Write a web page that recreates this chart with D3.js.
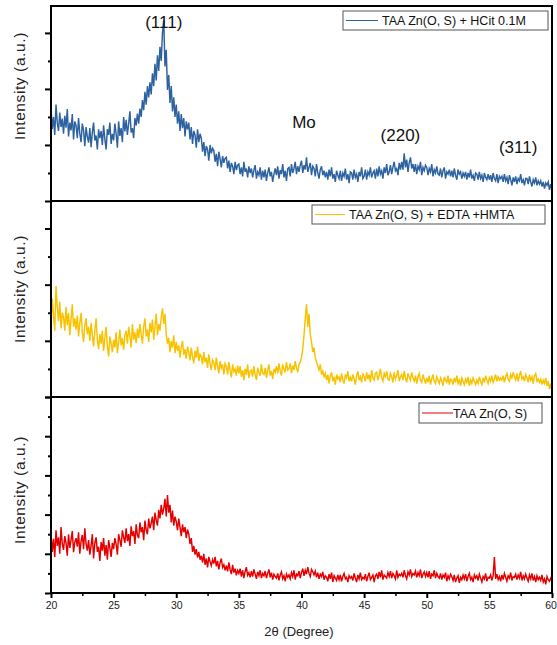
<!DOCTYPE html>
<html>
<head>
<meta charset="utf-8">
<script src="https://cdn.jsdelivr.net/npm/d3@7"></script>
<style>
  html, body { margin: 0; padding: 0; background: #fff; }
  svg { display: block; }
  text { font-family: "Liberation Sans", Arial, sans-serif; }
</style>
</head>
<body>
<svg id="chart" width="557" height="645"></svg>
<script>
// XRD scans, 2θ from 20° to 60° in 0.1° steps (401 points per scan)
const angleStart = 20;
const angleStep = 0.1;

// TAA Zn(O, S) + HCit 0.1M
const hcitCounts = [
  165,128,150,118,172,140,125,158,132,147,
  120,152,131,164,115,140,126,155,110,142,
  135,112,148,120,105,138,126,98,132,115,
  104,130,96,122,140,108,117,92,128,112,
  125,100,135,110,92,128,118,140,102,120,
  108,138,120,95,142,116,130,105,150,124,
  145,118,138,160,122,130,112,148,135,156,
  138,165,150,180,162,195,172,205,185,212,
  190,228,205,245,215,260,232,275,250,300,
  322,240,270,198,225,175,205,160,185,150,
  172,138,160,125,155,130,148,115,142,128,
  140,110,132,102,125,118,95,128,105,120,
  112,88,105,80,98,92,72,100,85,94,
  90,70,84,62,88,75,60,80,68,76,
  78,58,72,52,68,62,48,70,55,64,
  66,48,60,44,70,52,58,42,62,50,
  58,42,55,64,40,52,46,60,38,54,
  42,56,36,50,60,44,52,34,48,58,
  46,62,40,55,48,66,42,54,36,58,
  60,44,66,50,58,70,48,62,52,64,
  72,50,64,56,78,52,60,68,46,62,
  58,44,66,50,40,56,62,46,54,42,
  52,38,56,44,60,40,48,34,54,46,
  40,54,36,50,44,58,38,48,32,52,
  50,38,56,42,48,34,52,44,60,40,
  44,56,38,52,46,60,42,50,54,40,
  58,44,62,48,54,40,60,50,66,46,
  52,64,48,60,70,54,58,46,68,56,
  70,56,85,60,74,52,68,78,58,66,
  52,66,48,62,56,70,46,60,54,64,
  60,46,58,52,66,44,56,50,62,48,
  46,58,42,54,60,40,52,48,56,44,
  54,42,58,46,38,56,48,52,40,50,
  44,52,38,50,42,56,40,46,36,50,
  48,38,52,40,46,34,50,42,38,48,
  38,46,34,50,40,36,48,32,44,40,
  44,34,48,36,42,30,46,38,28,42,
  34,44,30,40,36,48,32,38,28,40,
  40,30,44,34,26,38,32,42,28,36,
  30,36,26,34,22,32,28,34,20,30,
  22
];

// TAA Zn(O, S) + EDTA + HMTA
const edtaCounts = [
  130,175,145,118,198,160,135,170,122,150,
  142,118,160,128,150,110,138,165,125,140,
  120,145,108,132,150,115,98,128,140,112,
  125,100,132,110,90,118,140,102,85,112,
  95,118,82,105,125,90,72,108,96,80,
  102,88,115,78,98,120,92,105,84,110,
  118,95,125,108,88,130,102,115,96,122,
  105,130,112,95,125,140,108,120,98,132,
  115,138,102,125,148,110,130,118,142,158,
  130,148,112,95,105,80,100,88,110,78,
  98,82,92,70,88,100,75,85,68,90,
  80,65,88,72,60,82,70,90,64,76,
  72,58,80,62,70,52,76,60,48,66,
  62,48,70,55,42,64,52,58,40,60,
  55,40,62,48,35,58,45,50,38,56,
  42,55,36,48,30,50,40,58,34,46,
  48,36,55,40,30,52,44,38,58,42,
  40,52,34,48,58,38,46,32,50,44,
  55,42,60,46,38,58,50,44,62,48,
  50,60,42,56,48,64,52,44,58,62,
  70,85,110,140,165,125,148,112,98,80,
  88,70,62,55,48,58,40,46,36,42,
  30,40,24,38,44,28,36,22,40,32,
  36,26,42,30,24,40,34,46,28,35,
  28,40,32,22,38,46,30,36,26,42,
  36,28,44,32,40,26,48,34,30,42,
  44,30,38,50,34,28,42,36,46,32,
  30,42,36,26,44,32,38,48,28,36,
  40,30,46,34,26,42,36,30,44,34,
  28,38,24,36,42,30,26,40,32,24,
  34,26,38,22,32,40,28,24,36,30,
  24,34,28,20,36,30,26,38,22,32,
  30,22,34,26,38,24,30,20,34,28,
  22,32,26,36,20,30,24,34,28,22,
  30,24,36,28,22,34,26,38,30,24,
  34,28,38,26,32,40,28,36,30,34,
  30,38,26,36,42,32,28,40,34,44,
  36,30,42,28,38,46,32,36,28,40,
  34,26,40,30,36,24,38,42,28,32,
  26,32,22,30,24,34,20,28,14,24,
  10
];

// TAA Zn(O, S)
const plainCounts = [
  150,105,138,92,160,120,142,100,168,125,
  110,145,128,95,150,115,135,158,104,130,
  140,118,155,100,132,148,112,165,125,108,
  135,98,120,150,88,128,142,105,118,82,
  130,108,140,95,122,85,135,115,92,128,
  112,140,125,98,150,135,118,160,142,128,
  165,132,150,120,170,145,158,125,175,148,
  140,180,155,168,135,185,160,150,190,165,
  178,195,160,205,185,172,212,190,225,200,
  215,240,195,250,205,225,180,210,172,195,
  182,160,190,168,145,175,155,168,140,162,
  150,125,140,105,120,98,112,90,105,85,
  95,78,100,72,88,65,92,80,70,85,
  75,92,68,82,60,78,88,65,72,58,
  70,55,78,60,48,72,52,62,45,58,
  50,62,42,58,38,55,66,45,52,40,
  56,42,60,48,36,54,44,58,38,50,
  44,56,38,50,60,40,52,34,48,42,
  38,50,32,46,54,36,44,30,48,40,
  46,36,52,42,58,34,48,44,56,38,
  52,62,44,58,48,66,50,42,60,54,
  46,56,40,52,36,48,42,54,34,44,
  40,30,48,36,52,28,44,38,32,46,
  34,46,30,42,50,36,40,28,44,38,
  42,32,50,38,28,46,36,52,34,40,
  36,48,30,42,52,34,40,46,28,44,
  48,36,54,40,58,34,46,42,38,52,
  42,56,38,50,44,36,58,40,48,44,
  50,40,58,44,36,54,46,60,42,50,
  46,56,40,52,44,60,38,48,54,42,
  52,40,56,36,48,44,58,38,50,42,
  38,50,34,46,40,52,30,44,36,48,
  42,32,46,28,38,44,26,40,34,46,
  36,48,30,42,50,34,40,28,46,38,
  44,32,48,38,28,42,36,50,30,40,
  38,46,32,44,92,36,48,34,42,30,
  46,34,50,40,30,44,38,52,32,42,
  40,48,34,46,38,54,32,44,36,48,
  38,30,46,36,50,32,42,28,44,34,
  40,32,46,28,36,22,42,34,30,38,
  30
];

const seriesNames = ["TAA Zn(O, S) + HCit 0.1M", "TAA Zn(O, S) + EDTA +HMTA", "TAA Zn(O, S)"];
const seriesColors = ["#2d62a0", "#f8c200", "#e40000"];
const xTickValues = [20, 25, 30, 35, 40, 45, 50, 55, 60];
const xMinorTicks = [22.5, 27.5, 32.5, 37.5, 42.5, 47.5, 52.5, 57.5];
const yMaxima = [348, 349, 500];
const yMajorTicks = [[0, 100, 200, 300], [0, 100, 200, 300], [0, 100, 200, 300, 400, 500]];
const yMinorTicks = [[50, 150, 250], [50, 150, 250], [50, 150, 250, 350, 450]];
const peakLabels = [
  { text: "(111)", angle: 29.0, count: 309 },
  { text: "Mo", angle: 40.2, count: 130 },
  { text: "(220)", angle: 47.9, count: 107 },
  { text: "(311)", angle: 57.3, count: 86 }
];

const svg = d3.select("#chart");
const left = 51, right = 552;
const panelTops = [6, 201, 397];
const panelBottoms = [201, 397, 593];

const x = d3.scaleLinear().domain([20, 60]).range([left, right]);

const allCounts = [hcitCounts, edtaCounts, plainCounts];
const legendBoxes = [
  { x: 343, y: 11, w: 205, h: 19, lineFrom: 346, lineTo: 378, textX: 382 },
  { x: 312, y: 205, w: 233, h: 19, lineFrom: 315, lineTo: 345, textX: 349 },
  { x: 419, y: 403, w: 123, h: 20, lineFrom: 422, lineTo: 453, textX: 453 }
];
const labelCenters = [86, 289, 490];

allCounts.forEach((counts, p) => {
  const y = d3.scaleLinear().domain([0, yMaxima[p]]).range([panelBottoms[p], panelTops[p]]);
  const g = svg.append("g");

  const pts = counts.map((c, i) => [angleStart + i * angleStep, c]);
  g.append("path")
    .datum(pts)
    .attr("fill", "none")
    .attr("stroke", seriesColors[p])
    .attr("stroke-width", 1.45)
    .attr("stroke-linejoin", "miter")
    .attr("d", d3.line().x(d => x(d[0])).y(d => y(d[1])));

  // left axis: major and minor ticks, no labels
  const majorAxis = d3.axisLeft(y).tickValues(yMajorTicks[p]).tickFormat("").tickSize(6).tickSizeOuter(0);
  const minorAxis = d3.axisLeft(y).tickValues(yMinorTicks[p]).tickFormat("").tickSize(3).tickSizeOuter(0);
  [majorAxis, minorAxis].forEach(ax => {
    const a = g.append("g").attr("transform", `translate(${left},0)`).call(ax);
    a.select(".domain").remove();
    a.selectAll("line").attr("stroke", "#000").attr("stroke-width", 2);
  });

  // panel frame
  g.append("rect")
    .attr("x", left).attr("y", panelTops[p])
    .attr("width", right - left).attr("height", panelBottoms[p] - panelTops[p])
    .attr("fill", "none").attr("stroke", "#000").attr("stroke-width", 2);

  // legend
  const lb = legendBoxes[p];
  g.append("rect")
    .attr("x", lb.x).attr("y", lb.y).attr("width", lb.w).attr("height", lb.h)
    .attr("fill", "#fff").attr("stroke", "#555").attr("stroke-width", 1);
  g.append("line")
    .attr("x1", lb.lineFrom).attr("x2", lb.lineTo)
    .attr("y1", lb.y + lb.h / 2).attr("y2", lb.y + lb.h / 2)
    .attr("stroke", seriesColors[p]).attr("stroke-width", 1);
  g.append("text")
    .attr("x", lb.textX).attr("y", lb.y + lb.h / 2 + 4.5)
    .attr("font-size", 12.5).attr("fill", "#111")
    .text(seriesNames[p]);

  // y title
  g.append("text")
    .attr("transform", `translate(25,${labelCenters[p]}) rotate(-90)`)
    .attr("text-anchor", "middle")
    .attr("font-size", 15.5).attr("letter-spacing", 0.6).attr("fill", "#222")
    .text("Intensity (a.u.)");

  if (p === 0) {
    peakLabels.forEach(pk => {
      g.append("text")
        .attr("x", x(pk.angle)).attr("y", y(pk.count))
        .attr("text-anchor", "middle")
        .attr("font-size", 17).attr("fill", "#111")
        .text(pk.text);
    });
  }
});

// bottom angle axis
const xMajor = d3.axisBottom(x).tickValues(xTickValues).tickFormat(d3.format("d")).tickSize(5).tickSizeOuter(0).tickPadding(4);
const xMinor = d3.axisBottom(x).tickValues(xMinorTicks).tickFormat("").tickSize(3).tickSizeOuter(0);
const bx = svg.append("g").attr("transform", `translate(0,${panelBottoms[2]})`).call(xMajor);
bx.select(".domain").remove();
bx.selectAll("line").attr("stroke", "#000").attr("stroke-width", 2);
bx.selectAll("text").attr("font-size", 10.5).attr("fill", "#222").attr("font-family", "'Liberation Sans', Arial, sans-serif");
bx.selectAll("text").filter(d => d === 60).attr("dx", -1.5);
const bm = svg.append("g").attr("transform", `translate(0,${panelBottoms[2]})`).call(xMinor);
bm.select(".domain").remove();
bm.selectAll("line").attr("stroke", "#000").attr("stroke-width", 1.5);

svg.append("text")
  .attr("x", 299).attr("y", 636)
  .attr("text-anchor", "middle")
  .attr("font-size", 13).attr("fill", "#222")
  .text("2θ (Degree)");
</script>
</body>
</html>
